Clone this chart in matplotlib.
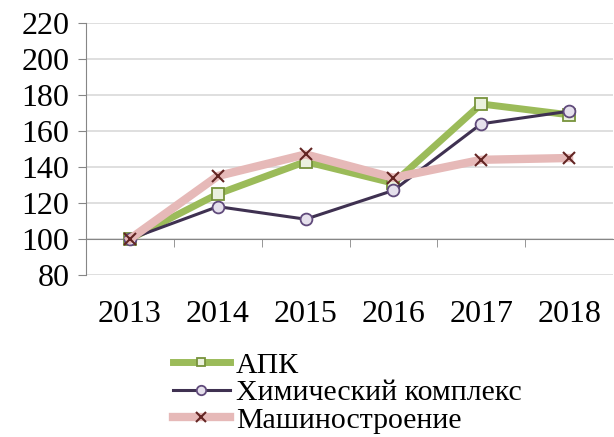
import matplotlib
matplotlib.use("Agg")
import matplotlib.pyplot as plt
from matplotlib.ticker import FixedLocator

years = ["2013", "2014", "2015", "2016", "2017", "2018"]
apk = [100, 125, 143, 131, 175, 169]
chem = [100, 118, 111, 127, 164, 171]
mash = [100, 135, 147, 134, 144, 145]
labels = ["АПК", "Химический комплекс", "Машиностроение"]

plt.rcParams['font.family'] = ['Liberation Serif', 'DejaVu Serif']

fig = plt.figure(figsize=(6.14, 4.37), dpi=100)
ax = fig.add_axes([86 / 614, 1 - 275 / 437, (613 - 86) / 614, 252 / 437])

x = list(range(len(years)))
ax.plot(x, apk, color='#9BBB59', lw=5, marker='s', ms=8,
        mfc='#EBF1DE', mec='#77933C', mew=1.3, label=labels[0], zorder=3)
ax.plot(x, chem, color='#3F3151', lw=2.2, marker='o', ms=8.5,
        mfc='#E5E0EC', mec='#604A7B', mew=1.3, label=labels[1], zorder=4)
ax.plot(x, mash, color='#E6B9B8', lw=6, marker='x', ms=9,
        mec='#632523', mew=1.5, label=labels[2], zorder=5)

ax.set_xlim(-0.5, 5.5)
ax.set_ylim(80, 220)
ax.set_yticks(range(80, 221, 20))
ax.yaxis.grid(True, color='#D9D9D9', lw=1.2)
ax.set_axisbelow(True)

for s in ['top', 'right']:
    ax.spines[s].set_visible(False)
ax.spines['left'].set_color('#868686')
ax.spines['bottom'].set_color('#868686')
ax.spines['bottom'].set_position(('data', 100))

ax.set_xticks(x)
ax.set_xticklabels(years)
ax.xaxis.set_minor_locator(FixedLocator([0.5, 1.5, 2.5, 3.5, 4.5]))
ax.tick_params(axis='x', which='major', length=0, pad=44, labelsize=23)
ax.tick_params(axis='x', which='minor', length=6, direction='out', color='#868686')
ax.tick_params(axis='y', length=6, color='#868686', labelsize=23, pad=6)

fig.legend(loc='upper left', bbox_to_anchor=(173 / 614, 1 - 352 / 437),
           frameon=False, fontsize=21.5, handlelength=1.9, handletextpad=0.2,
           labelspacing=0.02, borderpad=0, borderaxespad=0, markerscale=0.8)

fig.savefig("out.png", dpi=100)
